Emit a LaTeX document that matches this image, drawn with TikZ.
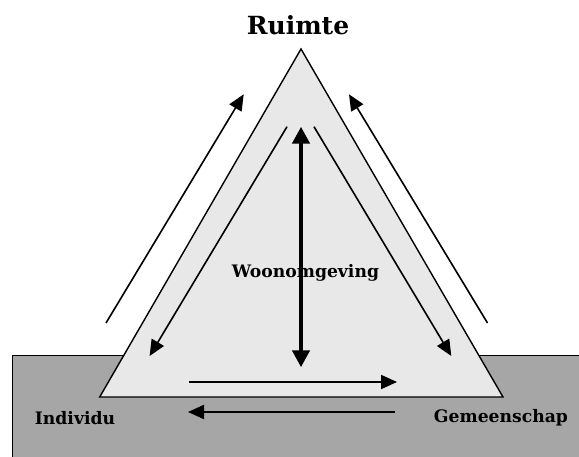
\documentclass[tikz,border=0pt]{standalone}
\usepackage{fontspec}
\setmainfont{DejaVu Serif}
\usepackage{xcolor}
\usepackage{tikz}
\usetikzlibrary{arrows.meta}

\begin{document}
\begin{tikzpicture}[x=1pt,y=-1pt,
    lbl/.style={font=\bfseries\fontsize{17.2}{20}\selectfont,inner sep=0pt},
    flow/.style={line width=1.6pt,-{Triangle[length=16pt,width=14pt]}},
    flowbase/.style={line width=2pt,-{Triangle[length=16pt,width=14pt]}},
    axis/.style={line width=4.5pt,{Triangle[length=17pt,width=17pt]}-{Triangle[length=17pt,width=17pt]}}]
      \useasboundingbox (0,0) rectangle (579,457);
      % ground
      \fill[fill={rgb,255:red,166;green,166;blue,166}]
        (12,356) rectangle (590,470);
      \draw[line width=1pt] (12,470) -- (12,356) -- (590,356);
      % triangle
      \coordinate (top) at (301,49);
      \coordinate (lft) at (99.7,397);
      \coordinate (rgt) at (503,397);
      \draw[line width=1.4pt,fill={rgb,255:red,232;green,232;blue,232}]
        (top) -- (lft) -- (rgt) -- cycle;
      % labels
      \node[lbl,font=\bfseries\fontsize{25}{28}\selectfont] (ruimte) at (298,25) {Ruimte};
      \node[lbl] (woon) at (305.5,273) {Woonomgeving};
      \node[lbl] (indiv) at (75,418) {Individu};
      \node[lbl] (gemeen) at (501,418) {Gemeenschap};
      % outer arrows
      \coordinate (ol1) at (106,323);
      \coordinate (ol2) at (243.7,94.3);
      \coordinate (or1) at (487.5,323);
      \coordinate (or2) at (349,94.3);
      \draw[flow] (ol1) -- (ol2);
      \draw[flow] (or1) -- (or2);
      % inner arrows
      \coordinate (il1) at (287,126.7);
      \coordinate (il2) at (149.6,356);
      \coordinate (ir1) at (314,126.7);
      \coordinate (ir2) at (451.3,356);
      \draw[flow] (il1) -- (il2);
      \draw[flow] (ir1) -- (ir2);
      % vertical axis
      \coordinate (v1) at (301,126.7);
      \coordinate (v2) at (301,367.3);
      \draw[axis] (v1) -- (v2);
      % base arrows
      \coordinate (b1) at (189,382);
      \coordinate (b2) at (397,382);
      \coordinate (b3) at (395,412);
      \coordinate (b4) at (188,412);
      \draw[flowbase] (b1) -- (b2);
      \draw[flowbase] (b3) -- (b4);
\end{tikzpicture}
\end{document}
